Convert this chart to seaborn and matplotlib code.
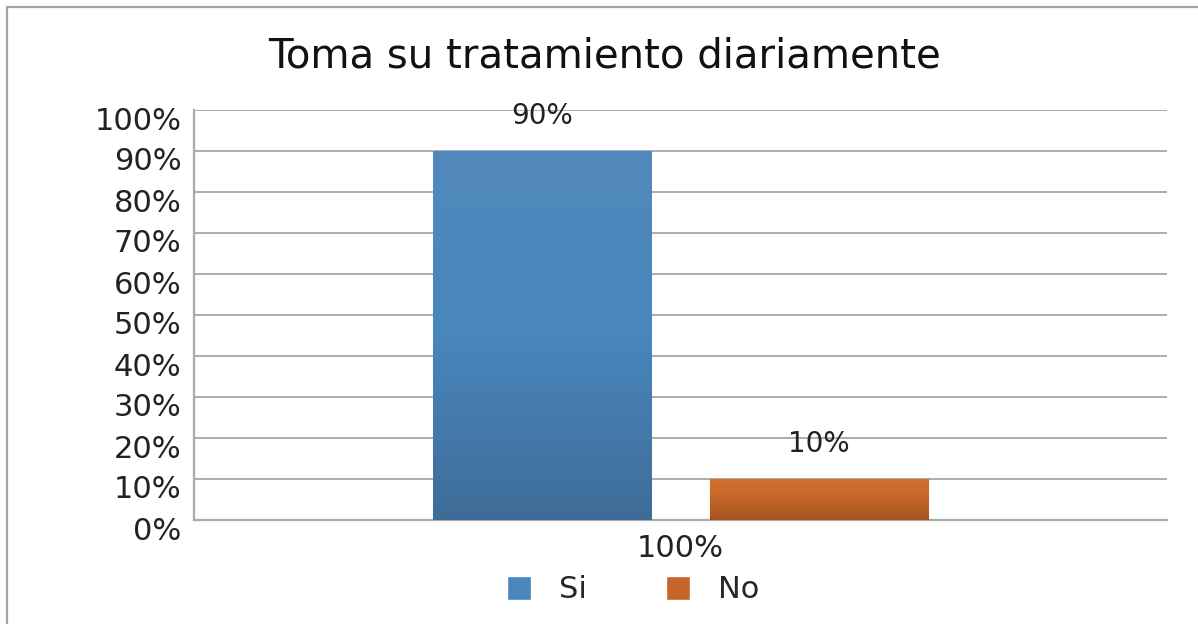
import numpy as np
import pandas as pd
import seaborn as sns
import matplotlib.pyplot as plt
import matplotlib.transforms as mtrans
from matplotlib.colors import LinearSegmentedColormap
from matplotlib.patches import Rectangle
from matplotlib.ticker import FuncFormatter

# data
categories = ['100%']
respuestas = ['Si', 'No']
valores = [0.90, 0.10]
y_ticks = [0.0, 0.1, 0.2, 0.3, 0.4, 0.5, 0.6, 0.7, 0.8, 0.9, 1.0]

df = pd.DataFrame({'cat': categories * len(respuestas),
                   'resp': respuestas,
                   'val': valores})

sns.set_theme(style='white')
plt.rcParams['font.family'] = ['DejaVu Sans']

colors = {'Si': '#4a82b8', 'No': '#c9692a'}
grads = {'Si': ('#3f6c97', '#4886bd', '#5289bb'),
         'No': ('#a5521f', '#c5652a', '#d2712e')}

fig = plt.figure(figsize=(11.98, 6.24), dpi=100)
ax = fig.add_axes([194 / 1198, 1 - 520 / 624, 973 / 1198, 410 / 624])

sns.barplot(data=df, x='cat', y='val', hue='resp', palette=colors,
            width=0.8, gap=0.21, ax=ax, legend=False, zorder=3)

ax.set_yticks(y_ticks)
ax.yaxis.set_major_formatter(FuncFormatter(lambda v, p: f'{v * 100:.0f}%'))
ax.grid(axis='y', color='#acacac', linewidth=1.4, zorder=0)
ax.set_axisbelow(True)
for s in ['top', 'right']:
    ax.spines[s].set_visible(False)
for s in ['left', 'bottom']:
    ax.spines[s].set_color('#a8aca8')
    ax.spines[s].set_linewidth(1.6)
ax.tick_params(axis='both', length=0, labelsize=22, colors='#222222')
ax.tick_params(axis='y', pad=9)
# labels sit a little below their gridline, like the original
shift = mtrans.ScaledTranslation(0, -8 / 100, fig.dpi_scale_trans)
for lab in ax.get_yticklabels():
    lab.set_transform(lab.get_transform() + shift)
ax.tick_params(axis='x', pad=10)
ax.set_xlabel('')
ax.set_ylabel('')

# gradient fill on the bars
for patch, resp, v in zip(ax.patches, respuestas, valores):
    x0, y0 = patch.get_x(), patch.get_y()
    w, h = patch.get_width(), patch.get_height()
    cmap = LinearSegmentedColormap.from_list(resp, grads[resp])
    img = ax.imshow(np.linspace(0, 1, 256).reshape(-1, 1), cmap=cmap,
                    origin='lower', aspect='auto',
                    extent=[x0, x0 + w, y0, y0 + h], zorder=3.5)
    img.set_clip_path(patch)
    patch.set_edgecolor('#a9c4dd' if resp == 'Si' else '#e0b090')
    patch.set_linewidth(0.8)
    ax.text(x0 + w / 2, v + 0.085, f'{v * 100:.0f}%', ha='center', va='center',
            fontsize=20, color='#222222', zorder=5)

ax.set_xlim(-0.703, 0.703)
ax.set_ylim(0, 1)

# legend
handles = [Rectangle((0, 0), 1, 1, facecolor=grads[r][1]) for r in respuestas]
fig.legend(handles, respuestas, loc='center', bbox_to_anchor=(633 / 1198, 1 - 590 / 624),
           ncol=2, frameon=False, fontsize=22, handlelength=0.8, handleheight=0.8,
           columnspacing=2.6, handletextpad=0.9)

fig.suptitle('Toma su tratamiento diariamente', x=605 / 1198, y=1 - 57 / 624,
             va='center', fontsize=29, color='#111111')

# outer chart border
fig.add_artist(Rectangle((7 / 1198, -0.05), 1.1, 1 - 7 / 624 + 0.05,
                         transform=fig.transFigure, fill=False,
                         edgecolor='#a0a5a0', linewidth=1.6))

fig.savefig('out.png', dpi=100)
